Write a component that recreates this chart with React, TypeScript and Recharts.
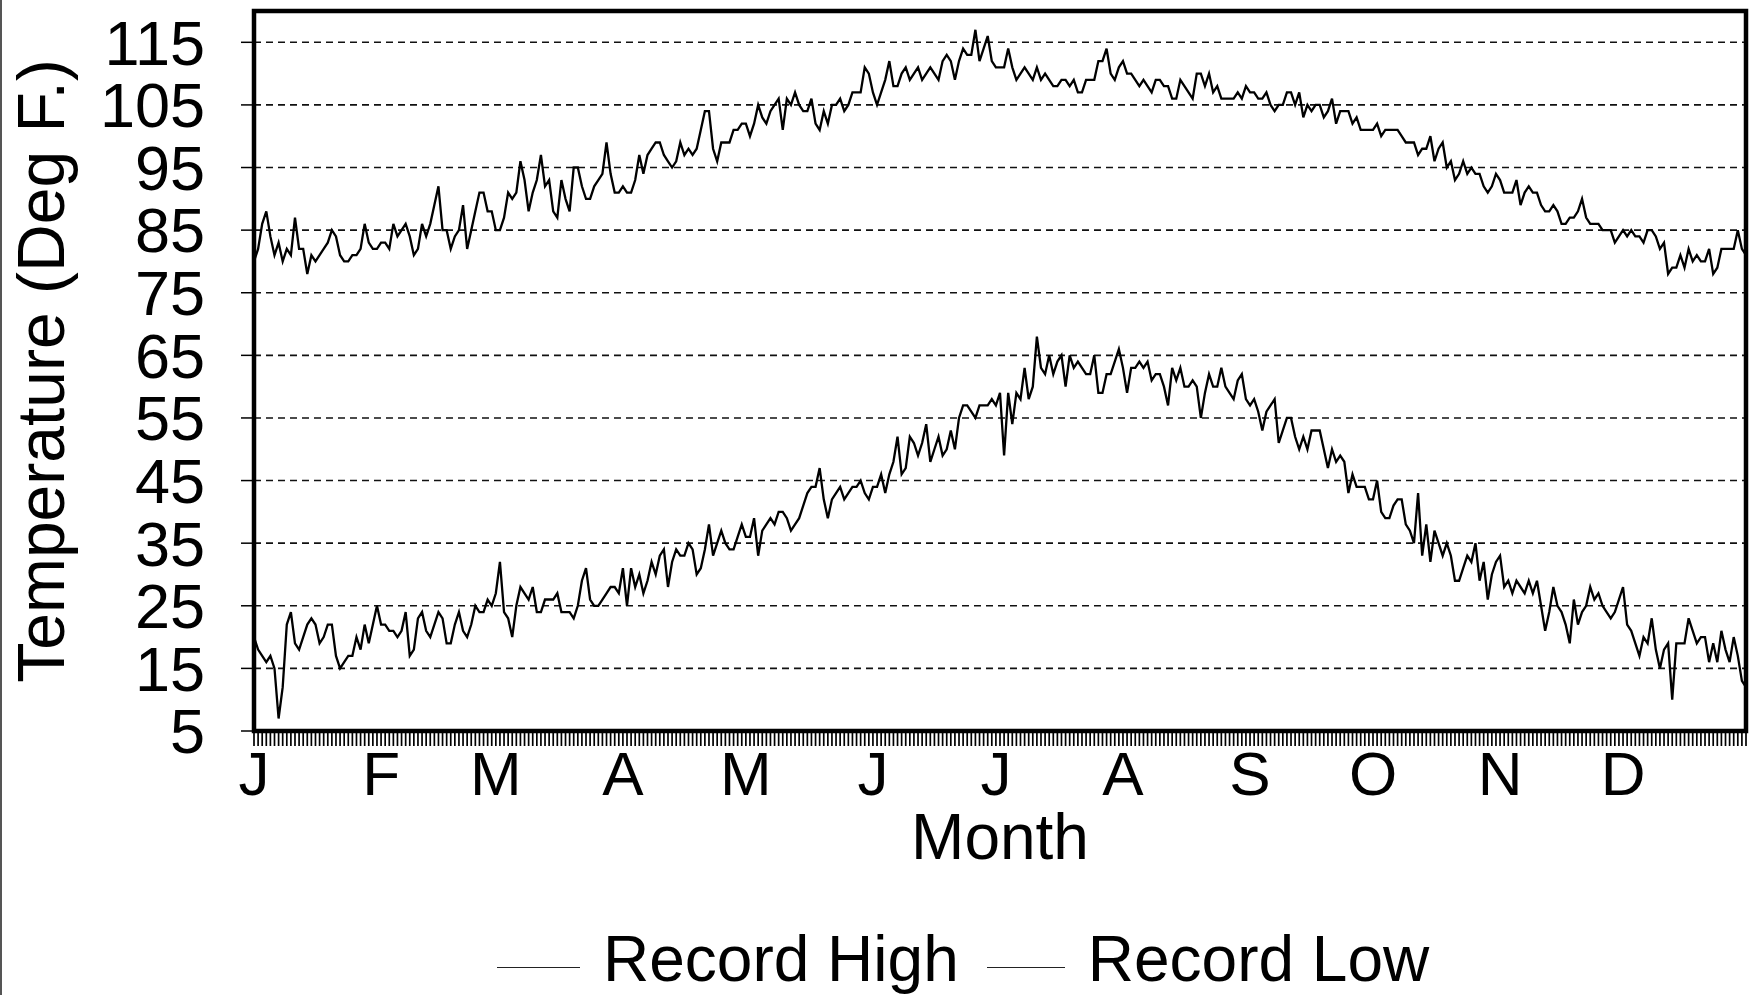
import { LineChart, Line, XAxis, YAxis, CartesianGrid, ReferenceArea, Legend } from "recharts";

// day of year 1..365
const DAYS = Array.from({ length: 365 }, (_, i) => i + 1);
const MONTH_LABELS = ["J", "F", "M", "A", "M", "J", "J", "A", "S", "O", "N", "D"];
const MONTH_START_DAYS = [1, 32, 60, 91, 121, 152, 182, 213, 244, 274, 305, 335];
const TEMP_TICKS = [5, 15, 25, 35, 45, 55, 65, 75, 85, 95, 105, 115];
const SERIES_NAMES = ["Record High", "Record Low"];

// one value per day, rows of 10 days
const RECORD_HIGH = [
  80, 82, 86, 88, 84, 81, 83, 80, 82, 81,
  87, 82, 82, 78, 81, 80, 81, 82, 83, 85,
  84, 81, 80, 80, 81, 81, 82, 86, 83, 82,
  82, 83, 83, 82, 86, 84, 85, 86, 84, 81,
  82, 86, 84, 86, 89, 92, 85, 85, 82, 84,
  85, 89, 82, 85, 88, 91, 91, 88, 88, 85,
  85, 87, 91, 90, 91, 96, 93, 88, 91, 93,
  97, 92, 93, 88, 87, 93, 90, 88, 95, 95,
  92, 90, 90, 92, 93, 94, 99, 94, 91, 91,
  92, 91, 91, 93, 97, 94, 97, 98, 99, 99,
  97, 96, 95, 96, 99, 97, 98, 97, 98, 101,
  104, 104, 98, 96, 99, 99, 99, 101, 101, 102,
  102, 100, 102, 105, 103, 102, 104, 105, 106, 101,
  106, 105, 107, 105, 104, 104, 106, 102, 101, 104,
  102, 105, 105, 106, 104, 105, 107, 107, 107, 111,
  110, 107, 105, 107, 109, 112, 108, 108, 110, 111,
  109, 110, 111, 109, 110, 111, 110, 109, 112, 113,
  112, 109, 112, 114, 113, 113, 117, 112, 114, 116,
  112, 111, 111, 111, 114, 111, 109, 110, 111, 110,
  109, 111, 109, 110, 109, 108, 108, 109, 109, 108,
  109, 107, 107, 109, 109, 109, 112, 112, 114, 110,
  109, 111, 112, 110, 110, 109, 108, 109, 108, 107,
  109, 109, 108, 108, 106, 106, 109, 108, 107, 106,
  110, 110, 108, 110, 107, 108, 106, 106, 106, 106,
  107, 106, 108, 107, 107, 106, 106, 107, 105, 104,
  105, 105, 107, 107, 105, 107, 103, 105, 104, 105,
  105, 103, 104, 106, 102, 104, 104, 104, 102, 103,
  101, 101, 101, 101, 102, 100, 101, 101, 101, 101,
  100, 99, 99, 99, 97, 98, 98, 100, 96, 98,
  99, 95, 96, 93, 94, 96, 94, 95, 94, 94,
  92, 91, 92, 94, 93, 91, 91, 91, 93, 89,
  91, 92, 91, 91, 89, 88, 88, 89, 88, 86,
  86, 87, 87, 88, 90, 87, 86, 86, 86, 85,
  85, 85, 83, 84, 85, 84, 85, 84, 84, 83,
  85, 85, 84, 82, 83, 78, 79, 79, 81, 79,
  82, 80, 81, 80, 80, 82, 78, 79, 82, 82,
  82, 82, 85, 82, 81,
];

const RECORD_LOW = [
  20, 18, 17, 16, 17, 15, 7, 12, 22, 24,
  19, 18, 20, 22, 23, 22, 19, 20, 22, 22,
  17, 15, 16, 17, 17, 20, 18, 22, 19, 22,
  25, 22, 22, 21, 21, 20, 21, 24, 17, 18,
  23, 24, 21, 20, 22, 24, 23, 19, 19, 22,
  24, 21, 20, 22, 25, 24, 24, 26, 25, 27,
  32, 24, 23, 20, 25, 28, 27, 26, 28, 24,
  24, 26, 26, 26, 27, 24, 24, 24, 23, 25,
  29, 31, 26, 25, 25, 26, 27, 28, 28, 27,
  31, 25, 31, 28, 30, 27, 29, 32, 30, 33,
  34, 28, 32, 34, 33, 33, 35, 34, 30, 31,
  34, 38, 33, 35, 37, 35, 34, 34, 36, 38,
  36, 36, 39, 33, 37, 38, 39, 38, 40, 40,
  39, 37, 38, 39, 41, 43, 44, 44, 47, 42,
  39, 42, 43, 44, 42, 43, 44, 44, 45, 43,
  42, 44, 44, 46, 43, 46, 48, 52, 46, 47,
  52, 51, 49, 51, 54, 48, 50, 52, 49, 50,
  53, 50, 55, 57, 57, 56, 55, 57, 57, 57,
  58, 57, 59, 49, 59, 54, 59, 58, 63, 58,
  60, 68, 63, 62, 65, 62, 64, 65, 60, 65,
  63, 64, 63, 62, 62, 65, 59, 59, 62, 62,
  64, 66, 63, 59, 63, 63, 64, 63, 64, 61,
  62, 62, 60, 57, 63, 61, 63, 60, 60, 61,
  60, 55, 59, 62, 60, 60, 63, 60, 59, 58,
  61, 62, 58, 57, 58, 56, 53, 56, 57, 58,
  51, 53, 55, 55, 52, 50, 52, 50, 53, 53,
  53, 50, 47, 50, 48, 49, 48, 43, 46, 44,
  44, 44, 42, 42, 45, 40, 39, 39, 41, 42,
  42, 38, 37, 35, 43, 33, 38, 32, 37, 35,
  33, 35, 33, 29, 29, 31, 33, 32, 35, 29,
  32, 26, 30, 32, 33, 28, 29, 27, 29, 28,
  27, 29, 27, 29, 25, 21, 24, 28, 25, 24,
  22, 19, 26, 22, 24, 25, 28, 26, 27, 25,
  24, 23, 24, 26, 28, 22, 21, 19, 17, 20,
  19, 23, 18, 15, 18, 19, 10, 19, 19, 19,
  23, 21, 19, 20, 20, 16, 19, 16, 21, 18,
  16, 20, 17, 13, 12,
];

const data = DAYS.map((day, i) => ({ day, high: RECORD_HIGH[i], low: RECORD_LOW[i] }));

const FONT = '"Liberation Sans", Arial, Helvetica, sans-serif';

// only month starts get a letter, every day keeps its tick line
function MonthTick(props: any) {
  const { x, y, payload } = props;
  const idx = MONTH_START_DAYS.indexOf(payload.value);
  if (idx < 0) return null;
  return (
    <text x={x} y={y} dy="0.71em" textAnchor="middle" fontSize={62} fill="#000" fontFamily={FONT}>
      {MONTH_LABELS[idx]}
    </text>
  );
}

function LegendBox() {
  return (
    <div
      style={{
        height: 114,
        display: "flex",
        paddingLeft: 497,
        paddingTop: 41,
        boxSizing: "border-box",
        fontFamily: FONT,
        fontSize: 64,
        color: "#000",
      }}
    >
      {SERIES_NAMES.map((name, i) => (
        <div key={name} style={{ display: "flex", alignItems: "flex-start", marginLeft: i === 0 ? 0 : 28 }}>
          <div style={{ width: i === 0 ? 83 : 78, borderTop: "1.5px solid #222", marginTop: 45, marginRight: 23 }} />
          <span style={{ lineHeight: "normal", whiteSpace: "nowrap" }}>{name}</span>
        </div>
      ))}
    </div>
  );
}

export default function App() {
  return (
    <div style={{ position: "relative", width: 1750, height: 995, fontFamily: FONT, background: "#fff" }}>
      <style>{"body{margin:0}"}</style>
      <div style={{ position: "absolute", left: 0, top: 0, width: 2, height: 995, background: "#555" }} />
      <LineChart width={1750} height={995} data={data} margin={{ top: 11, right: 4, bottom: 0, left: 0 }}>
        <CartesianGrid vertical={false} stroke="#111" strokeWidth={1.6} strokeDasharray="7 5" />
        <XAxis
          dataKey="day"
          type="number"
          domain={[1, 365]}
          ticks={DAYS}
          interval={0}
          height={150}
          tickSize={15}
          tickMargin={5}
          tick={MonthTick}
          tickLine={{ stroke: "#000", strokeWidth: 1.7 }}
          axisLine={{ stroke: "#000", strokeWidth: 4 }}
          label={{ value: "Month", position: "insideBottom", offset: 22, fill: "#000", fontSize: 64 }}
        />
        <XAxis
          xAxisId="inner"
          dataKey="day"
          type="number"
          domain={[1, 365]}
          ticks={DAYS}
          interval={0}
          mirror
          tick={false}
          tickSize={15}
          tickLine={{ stroke: "#000", strokeWidth: 1.7 }}
          axisLine={false}
        />
        <YAxis
          type="number"
          domain={[5, 120]}
          ticks={TEMP_TICKS}
          interval={0}
          width={254}
          tickSize={13}
          tickMargin={36}
          tick={{ fill: "#000", fontSize: 63 }}
          tickLine={{ stroke: "#000", strokeWidth: 1.5 }}
          axisLine={false}
          label={{
            value: "Temperature (Deg F.)",
            angle: -90,
            position: "insideLeft",
            offset: 41,
            fill: "#000",
            fontSize: 66,
            style: { textAnchor: "middle" },
          }}
        />
        <ReferenceArea x1={1} x2={365} y1={5} y2={120} fill="none" stroke="#000" strokeWidth={4.5} />
        <Line dataKey="high" name={SERIES_NAMES[0]} type="linear" stroke="#000" strokeWidth={2.3} dot={false} isAnimationActive={false} />
        <Line dataKey="low" name={SERIES_NAMES[1]} type="linear" stroke="#000" strokeWidth={2.3} dot={false} isAnimationActive={false} />
        <Legend verticalAlign="bottom" content={<LegendBox />} wrapperStyle={{ left: 0, width: 1750 }} />
      </LineChart>
    </div>
  );
}
